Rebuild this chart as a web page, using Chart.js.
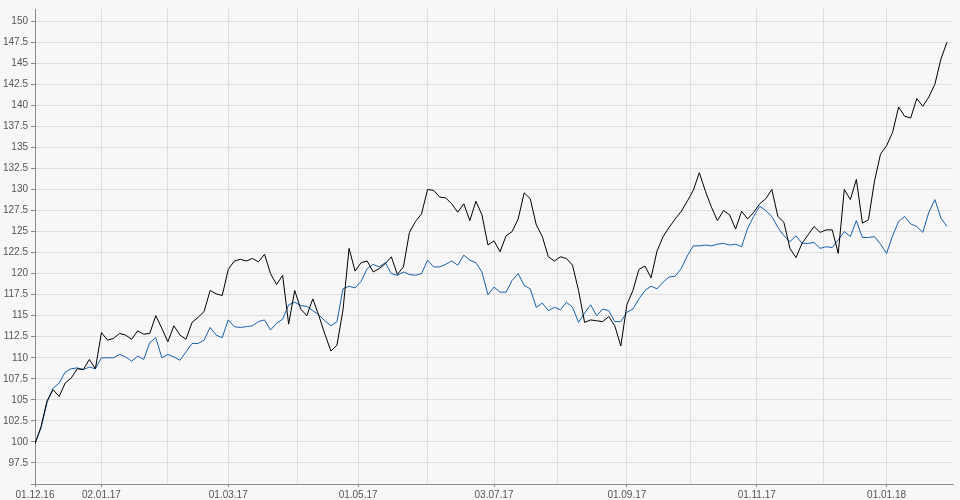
<!DOCTYPE html>
<html>
<head>
<meta charset="utf-8">
<script src="https://cdn.jsdelivr.net/npm/chart.js@4.4.1/dist/chart.umd.min.js"></script>
<style>
  html, body { margin: 0; padding: 0; background: #f7f7f7; }
  #chart { display: block; background: #f7f7f7; }
</style>
</head>
<body>
<canvas id="chart" width="960" height="500"></canvas>
<script>
// trading-day index of the first day of each month, Dec 2016 .. Jan 2018
const monthStarts = [0, 22, 44, 64, 87, 107, 130, 152, 173, 196, 217, 239, 261, 282];
const monthLabels = ['01.12.16', '02.01.17', '', '01.03.17', '', '01.05.17', '', '03.07.17', '', '01.09.17', '', '01.11.17', '', '01.01.18'];
const yTicks = [95, 97.5, 100, 102.5, 105, 107.5, 110, 112.5, 115, 117.5, 120, 122.5, 125, 127.5, 130, 132.5, 135, 137.5, 140, 142.5, 145, 147.5, 150];

// one value every second trading day, starting 01.12.16
const dayStep = 2;
const blackValues = [
  99.8, 101.8, 104.9, 106.2, 105.4, 107.0, 107.6, 108.7, 108.6, 109.8,
  108.7, 113.0, 112.1, 112.3, 112.9, 112.7, 112.2, 113.2, 112.8, 112.9,
  115.0, 113.5, 111.9, 113.8, 112.7, 112.2, 114.2, 114.8, 115.5, 118.0,
  117.6, 117.4, 120.5, 121.5, 121.7, 121.5, 121.8, 121.4, 122.3, 120.0,
  118.7, 119.8, 114.0, 118.0, 115.8, 115.0, 117.0, 115.0, 112.8, 110.8,
  111.5, 115.7, 123.0, 120.3, 121.3, 121.5, 120.2, 120.6, 121.2, 122.0,
  119.9, 120.8, 124.9, 126.2, 127.1, 130.0, 129.9, 129.1, 129.0, 128.3,
  127.3, 128.3, 126.3, 128.6, 127.0, 123.4, 123.9, 122.6, 124.5, 125.0,
  126.5, 129.6, 128.9, 125.8, 124.4, 122.0, 121.5, 122.0, 121.8, 121.0,
  118.0, 114.2, 114.5, 114.4, 114.3, 114.9, 113.8, 111.4, 116.3, 118.0,
  120.5, 120.9, 119.5, 122.7, 124.4, 125.5, 126.5, 127.4, 128.6, 129.9,
  132.0, 129.8, 127.9, 126.3, 127.5, 127.0, 125.3, 127.4, 126.5, 127.3,
  128.3, 128.9, 130.0, 126.8, 126.1, 123.0, 121.9, 123.6, 124.6, 125.6,
  124.9, 125.2, 125.2, 122.4, 130.0, 128.8, 131.2, 126.0, 126.4, 131.0,
  134.2, 135.2, 136.8, 139.8, 138.7, 138.5, 140.8, 139.9, 141.0, 142.5,
  145.5, 147.5
];
const blueValues = [
  99.8, 101.7, 104.7, 106.4, 107.0, 108.3, 108.7, 108.8, 108.6, 108.9,
  108.7, 110.0, 110.0, 110.0, 110.4, 110.1, 109.6, 110.2, 109.8, 111.8,
  112.4, 110.0, 110.4, 110.1, 109.7, 110.7, 111.7, 111.7, 112.1, 113.6,
  112.7, 112.4, 114.5, 113.7, 113.6, 113.7, 113.8, 114.3, 114.5, 113.3,
  114.1, 114.6, 116.3, 116.6, 116.2, 116.1, 115.6, 115.1, 114.4, 113.8,
  114.3, 118.2, 118.5, 118.3, 119.1, 120.6, 121.1, 120.8, 121.3, 120.0,
  119.8, 120.2, 119.9, 119.8, 120.0, 121.6, 120.8, 120.8, 121.1, 121.5,
  121.0, 122.2, 121.6, 121.3, 120.2, 117.5, 118.4, 117.8, 117.8, 119.2,
  120.0, 118.6, 118.2, 116.0, 116.5, 115.6, 116.0, 115.7, 116.6, 116.0,
  114.2, 115.3, 116.3, 115.0, 115.8, 115.6, 114.3, 114.3, 115.4, 115.8,
  117.0, 118.0, 118.5, 118.2, 119.0, 119.6, 119.7, 120.6, 122.1, 123.3,
  123.3, 123.4, 123.3, 123.5, 123.6, 123.4, 123.5, 123.2, 125.4, 126.8,
  128.0, 127.5, 126.8, 125.5, 124.5, 123.8, 124.5, 123.6, 123.6, 123.7,
  123.0, 123.2, 123.1, 124.0, 125.0, 124.4, 126.3, 124.3, 124.3, 124.4,
  123.5, 122.4, 124.5, 126.2, 126.8, 125.9, 125.6, 124.9, 127.3, 128.8,
  126.6, 125.6
];

const AXIS = '#8a8a8a';
const GRID = '#dedede';
const TEXT = '#555555';
const FONT = { family: 'Liberation Sans, Arial, sans-serif', size: 10 };

function toPoints(values) {
  return values.map((v, i) => ({ x: i * dayStep, y: v }));
}

new Chart(document.getElementById('chart'), {
  type: 'line',
  data: {
    datasets: [
      {
        label: 'black',
        data: toPoints(blackValues),
        borderColor: '#000000',
        borderWidth: 1,
        pointRadius: 0,
        tension: 0,
        fill: false,
      },
      {
        label: 'blue',
        data: toPoints(blueValues),
        borderColor: '#1660a8',
        borderWidth: 1,
        pointRadius: 0,
        tension: 0,
        fill: false,
      },
    ],
  },
  options: {
    responsive: false,
    animation: false,
    events: [],
    layout: { padding: { top: 2, right: 7, left: 0, bottom: 0 } },
    plugins: { legend: { display: false }, tooltip: { enabled: false } },
    scales: {
      x: {
        type: 'linear',
        min: 0,
        max: 304,
        afterBuildTicks: (scale) => { scale.ticks = monthStarts.map(v => ({ value: v })); },
        afterFit: (scale) => { scale.height = 16; },
        border: { display: true, color: AXIS, width: 1 },
        grid: {
          color: GRID,
          lineWidth: 1,
          drawTicks: true,
          tickLength: 3,
          tickColor: (c) => (monthLabels[c.index] ? AXIS : 'rgba(0,0,0,0)'),
        },
        ticks: {
          autoSkip: false,
          maxRotation: 0,
          padding: 2,
          color: TEXT,
          font: FONT,
          callback: (v) => monthLabels[monthStarts.indexOf(v)] || '',
        },
      },
      y: {
        type: 'linear',
        min: 95,
        max: 151.45,
        afterBuildTicks: (scale) => { scale.ticks = yTicks.map(v => ({ value: v })); },
        afterFit: (scale) => { scale.width = 35; },
        border: { display: true, color: AXIS, width: 1 },
        grid: {
          color: GRID,
          lineWidth: 1,
          drawTicks: true,
          tickLength: 4,
          tickColor: AXIS,
        },
        ticks: {
          padding: 3,
          color: TEXT,
          font: FONT,
          callback: (v) => (v === 95 ? '' : v),
        },
      },
    },
  },
});
</script>
</body>
</html>
